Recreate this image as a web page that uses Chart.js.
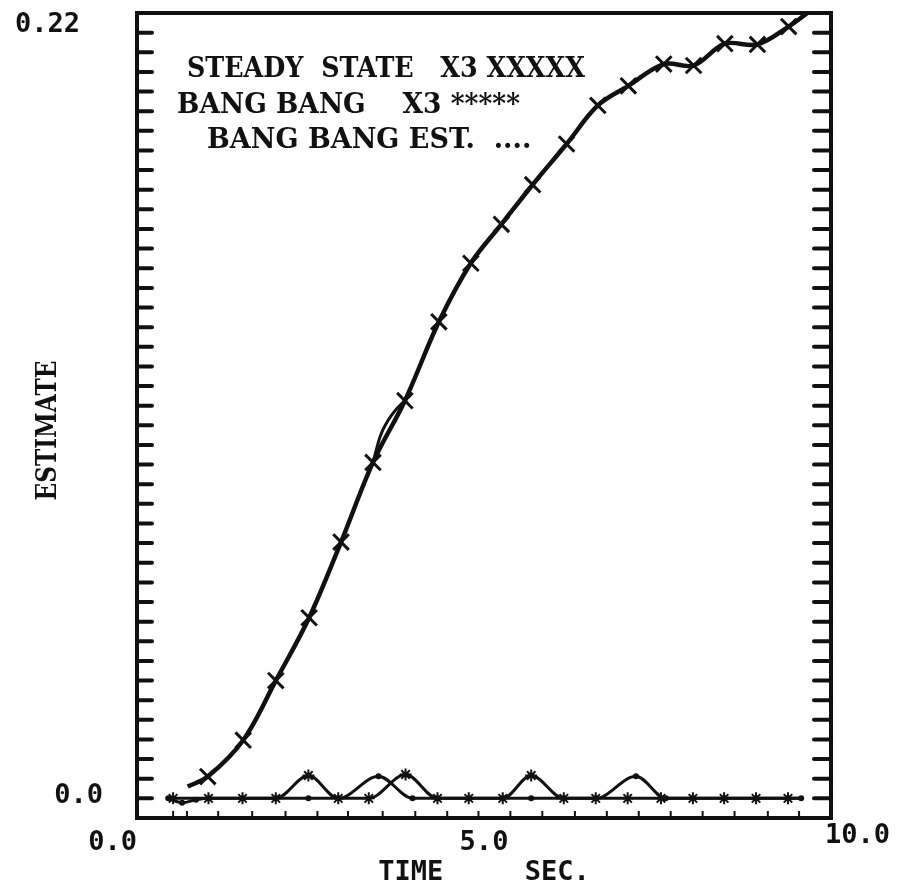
<!DOCTYPE html>
<html>
<head>
<meta charset="utf-8">
<script src="https://cdn.jsdelivr.net/npm/chart.js@4.4.0/dist/chart.umd.min.js"></script>
<style>
html,body{margin:0;padding:0;background:#fff;}
canvas{display:block;}
</style>
</head>
<body>
<canvas id="c" width="899" height="883"></canvas>
<script>
// ---- data ----
const tSteady   = [0.73, 1.02, 1.53, 2.00, 2.48, 2.94, 3.40, 3.86, 4.35, 4.81, 5.25, 5.70, 6.19, 6.64, 7.08, 7.59, 8.02, 8.47, 8.94, 9.39, 9.66];
const steadyX3  = [0.0033, 0.0061, 0.0163, 0.0330, 0.0506, 0.0718, 0.0941, 0.1114, 0.1335, 0.1499, 0.1608, 0.1719, 0.1833, 0.1941, 0.1996, 0.2057, 0.2053, 0.2114, 0.2112, 0.2162, 0.2200];
const tSteadyAlt = [3.40, 3.51, 3.685, 3.86];
const steadyAlt  = [0.0941, 0.1017, 0.1078, 0.1114];
const tBang     = [0.52, 1.03, 1.52, 2.00, 2.47, 2.90, 3.34, 3.87, 4.33, 4.78, 5.27, 5.68, 6.15, 6.61, 7.07, 7.55, 8.01, 8.46, 8.92, 9.38, 9.57];
const bangX3    = [0, 0, 0, 0, 0.0064, 0, 0, 0.0067, 0, 0, 0, 0.0064, 0, 0, 0, 0, 0, 0, 0, 0, 0];
const tEst      = [0.45, 0.65, 0.85, 1.03, 1.52, 2.00, 2.47, 2.90, 3.48, 3.97, 4.33, 4.78, 5.27, 5.68, 6.15, 6.61, 7.19, 7.62, 8.01, 8.46, 8.92, 9.38, 9.57];
const bangEst   = [0, -0.0012, -0.0004, 0, 0, 0, 0, 0, 0.0062, 0, 0, 0, 0, 0, 0, 0, 0.0062, 0, 0, 0, 0, 0, 0];
const xTickMarks = [0.52, 0.72, 1.17, 1.66, 2.14, 2.60, 3.04, 3.54, 4.01, 4.47, 4.92, 5.38, 5.84, 6.31, 6.77, 7.23, 7.69, 8.15, 8.61, 9.09, 9.54];
const xMin = 0, xMax = 10;
const yMin = -0.0055, yMax = 0.22, yTickStep = 0.0055;
const xTickLabels = [{v: 0, t: '0.0'}, {v: 5, t: '5.0'}, {v: 10, t: '10.0'}];
const yTickLabels = [{v: 0, t: '0.0'}, {v: 0.22, t: '0.22'}];
const legendLines = ['STEADY  STATE   X3 XXXXX', 'BANG BANG    X3 *****', 'BANG BANG EST.  ....'];
const xTitle = 'TIME     SEC.';
const yTitle = 'ESTIMATE';

const INK = '#111';
const zip = (xs, ys) => xs.map((x, i) => ({x: x, y: ys[i]}));

const framePlugin = {
  id: 'frame',
  afterDraw(chart) {
    const ctx = chart.ctx;
    const {left, right, top, bottom} = chart.chartArea;
    const xs = chart.scales.x, ys = chart.scales.y;
    ctx.save();
    ctx.strokeStyle = INK; ctx.fillStyle = INK;
    // frame
    ctx.lineWidth = 4;
    ctx.strokeRect(left, top, right - left, bottom - top);
    // inward y ticks on both sides
    ctx.lineWidth = 4;
    ctx.lineCap = 'round';
    const nY = Math.round((yMax - yMin) / yTickStep);
    for (let k = 1; k < nY; k++) {
      const v = yMin + k * yTickStep;
      const py = ys.getPixelForValue(v);
      ctx.beginPath(); ctx.moveTo(left, py); ctx.lineTo(left + 15, py); ctx.stroke();
      ctx.beginPath(); ctx.moveTo(right, py); ctx.lineTo(right - 17, py); ctx.stroke();
    }
    // small inward x ticks at bottom
    ctx.lineWidth = 2; ctx.lineCap = 'butt';
    xTickMarks.forEach(v => {
      const px = xs.getPixelForValue(v);
      ctx.beginPath(); ctx.moveTo(px, bottom); ctx.lineTo(px, bottom - 7); ctx.stroke();
    });
    // tick labels (plotter font)
    ctx.font = 'bold 27px "DejaVu Sans Mono"';
    ctx.textBaseline = 'alphabetic';
    xTickLabels.forEach((o, i) => {
      const px = xs.getPixelForValue(o.v);
      if (i === 0) { ctx.textAlign = 'right'; ctx.fillText(o.t, px, bottom + 32); }
      else if (i === xTickLabels.length - 1) { ctx.textAlign = 'left'; ctx.fillText(o.t, px - 6, bottom + 25); }
      else { ctx.textAlign = 'center'; ctx.fillText(o.t, px, bottom + 32); }
    });
    ctx.textAlign = 'right';
    yTickLabels.forEach(o => {
      const py = ys.getPixelForValue(o.v);
      if (o.v === 0) ctx.fillText(o.t, left - 34, py + 5);
      else ctx.fillText(o.t, left - 57, py + 19);
    });
    // x title
    ctx.textAlign = 'center';
    ctx.fillText(xTitle, (left + right) / 2, bottom + 62);
    // y title (typewriter serif)
    ctx.save();
    ctx.translate(56, (top + bottom) / 2 + 15);
    ctx.rotate(-Math.PI / 2);
    ctx.font = 'bold 27px "DejaVu Serif"';
    ctx.textAlign = 'center';
    ctx.fillText(yTitle, 0, 0, 140);
    ctx.restore();
    // in-plot legend text
    ctx.font = 'bold 27px "DejaVu Serif"';
    ctx.textAlign = 'left';
    ctx.fillText(legendLines[0], 187, 77, 398);
    ctx.fillText(legendLines[1], 177, 113, 343);
    ctx.fillText(legendLines[2], 207, 148, 326);
    ctx.restore();
  }
};

new Chart(document.getElementById('c'), {
  type: 'line',
  data: {
    datasets: [
      {
        label: 'STEADY STATE X3',
        data: zip(tSteady, steadyX3),
        borderColor: INK, borderWidth: 4.5,
        pointStyle: 'crossRot',
        pointRadius: tSteady.map((t, i) => (i === 0 || i === tSteady.length - 1) ? 0 : 11),
        pointBorderWidth: 3, pointBorderColor: INK, pointBackgroundColor: INK,
        tension: 0.35, fill: false
      },
      {
        label: 'STEADY STATE X3 (second trace)',
        data: zip(tSteadyAlt, steadyAlt),
        borderColor: INK, borderWidth: 3,
        pointRadius: 0,
        cubicInterpolationMode: 'monotone', fill: false
      },
      {
        label: 'BANG BANG X3',
        data: zip(tBang, bangX3),
        borderColor: INK, borderWidth: 3,
        pointStyle: 'star',
        pointRadius: tBang.map((t, i) => i === tBang.length - 1 ? 0 : 6),
        pointBorderWidth: 2, pointBorderColor: INK,
        cubicInterpolationMode: 'monotone', fill: false
      },
      {
        label: 'BANG BANG EST.',
        data: zip(tEst, bangEst),
        borderColor: INK, borderWidth: 3,
        pointStyle: 'circle', pointRadius: 3,
        pointBorderWidth: 0, pointBackgroundColor: INK,
        cubicInterpolationMode: 'monotone', fill: false
      }
    ]
  },
  options: {
    responsive: false,
    animation: false,
    devicePixelRatio: 1,
    layout: {padding: {left: 137, right: 68, top: 13, bottom: 65}},
    plugins: {legend: {display: false}, tooltip: {enabled: false}},
    scales: {
      x: {type: 'linear', min: xMin, max: xMax, display: false},
      y: {type: 'linear', min: yMin, max: yMax, display: false}
    }
  },
  plugins: [framePlugin]
});
</script>
</body>
</html>
